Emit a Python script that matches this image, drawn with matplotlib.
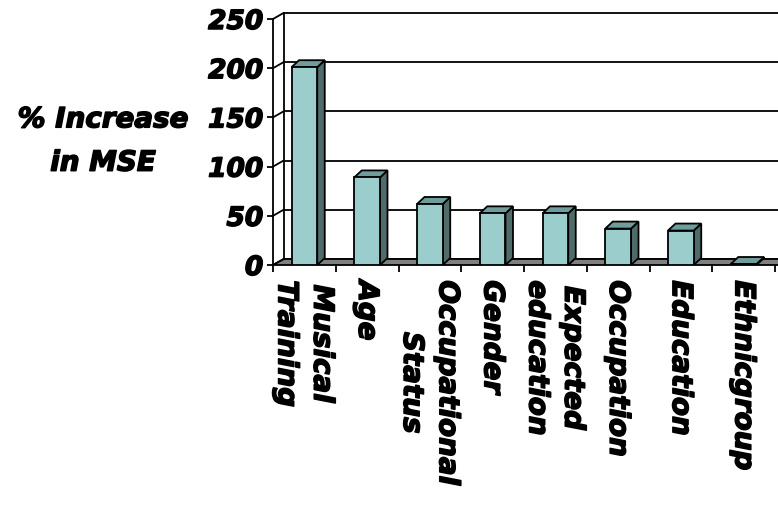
import matplotlib
matplotlib.use('Agg')
import matplotlib.pyplot as plt
import matplotlib.patheffects as pe
from matplotlib.patches import Polygon

labels = ['Musical\nTraining', 'Age', 'Occupational\nStatus', 'Gender',
          'Expected\neducation', 'Occupation', 'Education', 'Ethnicgroup']
values = [201, 89, 62, 52.5, 52.5, 37, 35, 1]
yticks = [0, 50, 100, 150, 200, 250]

FRONT = '#9ACDCC'
TOP   = '#6E9D9B'
SIDE  = '#4F6C6A'
FLOOR = '#808080'

# heavier strokes on the bold italic text
heavy = [pe.withStroke(linewidth=1.1, foreground='black')]

W, H = 778, 510
fig = plt.figure(figsize=(W/100, H/100), dpi=100)
# axes: left edge = front y-axis, bottom = front edge of floor
ax = fig.add_axes([273/W, 1-266/H, (W-273)/W, (266-14)/H])
xmax = -0.5 + (W-273)/62.75
ymax = 250 + 6/0.984
ax.set_xlim(-0.5, xmax)
ax.set_ylim(0, ymax)

# depth offsets in data units
dx, dy = 10.5/62.75, 6/0.984      # walls / floor
bdx, bdy = 7.5/62.75, 7/0.984     # bar depth
bw = 0.41

lw = 1.3
# back wall gridlines and edge
for v in yticks:
    ax.plot([-0.5+dx, xmax], [v+dy, v+dy], color='black', lw=lw, clip_on=False, zorder=1)
    ax.plot([-0.5, -0.5+dx], [v, v+dy], color='black', lw=lw, clip_on=False, zorder=1)
ax.plot([-0.5+dx, -0.5+dx], [dy, 250+dy], color='black', lw=lw, clip_on=False, zorder=1)

# floor
floor = Polygon([(-0.5, 0), (xmax+0.2, 0), (xmax+0.2, dy), (-0.5+dx, dy)],
                closed=True, facecolor=FLOOR, edgecolor='black', lw=lw,
                clip_on=False, zorder=2)
ax.add_patch(floor)

# bars with side and top faces
for i, v in enumerate(values):
    x0, x1 = i - bw/2, i + bw/2
    side = Polygon([(x1, 0), (x1+bdx, bdy), (x1+bdx, v+bdy), (x1, v)],
                   closed=True, facecolor=SIDE, edgecolor='black', lw=lw, zorder=3)
    top = Polygon([(x0, v), (x1, v), (x1+bdx, v+bdy), (x0+bdx, v+bdy)],
                  closed=True, facecolor=TOP, edgecolor='black', lw=lw, zorder=3)
    ax.add_patch(side)
    ax.add_patch(top)
ax.bar(range(len(values)), values, width=bw, color=FRONT, edgecolor='black',
       linewidth=lw, zorder=4)

for s in ['top', 'right', 'bottom']:
    ax.spines[s].set_visible(False)
ax.spines['left'].set_bounds(0, 250)
ax.spines['left'].set_linewidth(lw)

ax.set_yticks(yticks)
ax.set_yticklabels([str(v) for v in yticks])
ax.tick_params(axis='y', length=4, width=lw, pad=3, direction='out')
for t in ax.get_yticklabels():
    t.set_fontsize(19)
    t.set_fontweight('bold')
    t.set_fontstyle('italic')
    t.set_path_effects(heavy)

# category boundaries as major ticks, names as minor ticks
ax.set_xticks([i - 0.5 for i in range(len(values)+1)])
ax.set_xticklabels([])
ax.set_xticks(range(len(values)), labels=labels, minor=True)
ax.tick_params(axis='x', which='major', length=5, width=lw, direction='out')
ax.tick_params(axis='x', which='minor', length=0, pad=11)
for t in ax.get_xticklabels(minor=True):
    t.set_rotation(-90)
    t.set_fontsize(20)
    t.set_fontweight('bold')
    t.set_fontstyle('italic')
    t.set_multialignment('center')
    t.set_linespacing(1.35)
    t.set_path_effects(heavy)

fig.text(103/W, 1-142/H, '% Increase\nin MSE', ha='center', va='center',
         multialignment='center', fontsize=20, fontweight='bold',
         fontstyle='italic', linespacing=1.7, path_effects=heavy)

fig.savefig('out.png', dpi=100, facecolor='white')
